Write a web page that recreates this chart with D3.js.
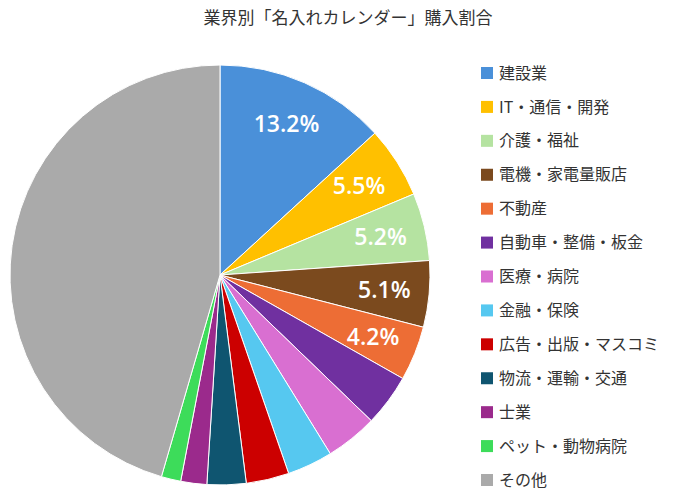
<!DOCTYPE html>
<html><head><meta charset="utf-8">
<script src="https://cdn.jsdelivr.net/npm/d3@7"></script>
<style>body{margin:0;background:#fff}</style></head>
<body><svg id="c" width="700" height="503"></svg>
<script>
const categories=["建設業","IT・通信・開発","介護・福祉","電機・家電量販店","不動産","自動車・整備・板金","医療・病院","金融・保険","広告・出版・マスコミ","物流・運輸・交通","士業","ペット・動物病院","その他"];
const values=[13.2,5.5,5.2,5.1,4.2,4.0,4.0,3.5,3.3,3.0,2.0,1.5,45.5];
const labels=["13.2%","5.5%","5.2%","5.1%","4.2%","","","","","","","",""];
const colors=["#4a90d9","#ffc000","#b5e3a1","#7b4a1e","#ed6d35","#7030a0","#d96fd1","#56c8f0","#cc0000","#0f5570","#9b2a8c","#3ddc5a","#aaaaaa"];
const svg=d3.select("#c");
const font="'Noto Sans CJK JP','Noto Sans',sans-serif";
svg.append("text").attr("x",348).attr("y",24).attr("text-anchor","middle").attr("font-family",font).attr("font-size",17).attr("fill","#333").text("業界別「名入れカレンダー」購入割合");
const g=svg.append("g").attr("transform","translate(220,275)");
const pie=d3.pie().sort(null).value(d=>d)(values);
const arc=d3.arc().innerRadius(0).outerRadius(210);
const lab=d3.arc().innerRadius(165).outerRadius(165);
g.selectAll("path").data(pie).join("path").attr("d",arc).attr("fill",(d,i)=>colors[i]).attr("stroke","#fff").attr("stroke-width",1);
g.selectAll("text").data(pie).join("text").attr("transform",d=>`translate(${lab.centroid(d)})`)
 .attr("text-anchor","middle").attr("dy","0.35em").attr("font-family","'Open Sans',sans-serif").attr("font-weight",600).attr("font-size",23).attr("fill","#fff").text((d,i)=>labels[i]);
const y=d3.scalePoint().domain(categories).range([73,480]);
const lg=svg.append("g");
lg.selectAll("rect").data(categories).join("rect").attr("x",481).attr("y",d=>y(d)-6).attr("width",12).attr("height",12).attr("fill",(d,i)=>colors[i]);
lg.selectAll("text").data(categories).join("text").attr("x",499).attr("y",d=>y(d)).attr("dy","0.35em").attr("font-family",font).attr("font-size",16).attr("fill","#333").text(d=>d);
</script></body></html>
